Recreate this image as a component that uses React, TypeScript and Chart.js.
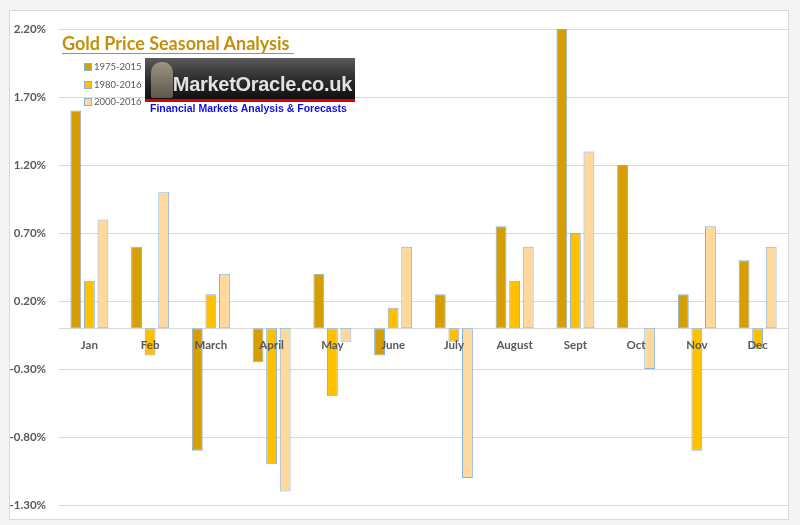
import React, { useEffect, useRef } from "react";
import { Chart, registerables } from "chart.js";

Chart.register(...registerables);

const months = ["Jan", "Feb", "March", "April", "May", "June", "July", "August", "Sept", "Oct", "Nov", "Dec"];
const s1975 = [1.6, 0.6, -0.9, -0.25, 0.4, -0.2, 0.25, 0.75, 2.2, 1.2, 0.25, 0.5];
const s1980 = [0.35, -0.2, 0.25, -1.0, -0.5, 0.15, -0.1, 0.35, 0.7, null, -0.9, -0.15];
const s2000 = [0.8, 1.0, 0.4, -1.2, -0.1, 0.6, -1.1, 0.6, 1.3, -0.3, 0.75, 0.6];
const seriesNames = ["1975-2015", "1980-2016", "2000-2016"];
const seriesColors = ["#D69E00", "#FFC000", "#FFD89C"];
const yMin = -1.3;
const yMax = 2.2;
const yStep = 0.5;
const titleText = "Gold Price Seasonal Analysis";
const logoText = "MarketOracle.co.uk";
const logoSub = "Financial Markets Analysis & Forecasts";

export default function App() {
  const ref = useRef<HTMLCanvasElement | null>(null);

  useEffect(() => {
    if (!ref.current) return;
    const border = "#86B2DE";
    const chart = new Chart(ref.current, {
      type: "bar",
      data: {
        labels: months,
        datasets: [s1975, s1980, s2000].map((d, i) => ({
          label: seriesNames[i],
          data: d,
          backgroundColor: seriesColors[i],
          borderColor: border,
          borderWidth: 1,
          borderSkipped: false,
          categoryPercentage: 0.67,
          barPercentage: 0.8,
        })),
      },
      options: {
        responsive: false,
        animation: false,
        layout: { padding: { left: 0, top: 29, right: 12, bottom: 19 } },
        plugins: {
          legend: { display: false },
          tooltip: { enabled: false },
          title: { display: false },
        },
        scales: {
          x: {
            position: { y: 0 },
            grid: { display: false, drawTicks: false },
            border: { display: true, color: "#D9D9D9", width: 1, z: 0 },
            ticks: {
              z: 1,
              padding: 10,
              color: "#595959",
              font: { family: "Lato", size: 11.5, weight: "bold" },
              maxRotation: 0,
              autoSkip: false,
            },
            afterFit: (s: any) => {
              s.height = 0;
            },
          },
          y: {
            min: yMin,
            max: yMax,
            grid: { color: "#D9D9D9", lineWidth: 1, drawTicks: false },
            border: { display: false },
            ticks: {
              stepSize: yStep,
              padding: 13,
              color: "#595959",
              font: { family: "Lato", size: 11.5, weight: "bold" },
              callback: (v: any) => Number(v).toFixed(2) + "%",
            },
            afterFit: (s: any) => {
              s.width = 59;
            },
          },
        },
      } as any,
    });
    return () => chart.destroy();
  }, []);

  return (
    <div
      style={{
        position: "fixed",
        left: 0,
        top: 0,
        width: 800,
        height: 525,
        background: "#F4F4F4",
        overflow: "hidden",
      }}
    >
      <div
        style={{
          position: "absolute",
          left: 9,
          top: 10,
          width: 780,
          height: 510,
          background: "#FFFFFF",
          border: "1px solid #D9D9D9",
          boxSizing: "border-box",
        }}
      />
      <canvas ref={ref} width={800} height={525} style={{ position: "absolute", left: 0, top: 0 }} />
      <div
        style={{
          position: "absolute",
          left: 62,
          top: 32,
          fontFamily: "Lato",
          fontWeight: 700,
          fontSize: 18,
          color: "#C4900C",
          textDecoration: "underline",
          textUnderlineOffset: 3,
          whiteSpace: "pre",
          lineHeight: "22px",
        }}
      >
        {titleText + " "}
      </div>
      {seriesNames.map((n, i) => (
        <div
          key={n}
          style={{
            position: "absolute",
            left: 84,
            top: 61 + i * 17.5,
            display: "flex",
            alignItems: "center",
            fontFamily: "Lato",
            fontSize: 9.5,
            color: "#595959",
            lineHeight: "12px",
          }}
        >
          <span
            style={{
              display: "inline-block",
              width: 6,
              height: 6,
              background: seriesColors[i],
              border: "1px solid #86B2DE",
              marginRight: 2,
            }}
          />
          {n}
        </div>
      ))}
      <div
        style={{
          position: "absolute",
          left: 145,
          top: 58,
          width: 210,
          height: 41,
          background: "linear-gradient(#5a5a5a, #2a2a2a 55%, #101010)",
          borderBottom: "3px solid #E00000",
          boxSizing: "content-box",
        }}
      >
        <div
          style={{
            position: "absolute",
            left: 6,
            top: 4,
            width: 22,
            height: 36,
            background: "linear-gradient(#a8a08c, #6b6558)",
            borderRadius: "10px 10px 2px 2px",
            opacity: 0.85,
          }}
        />
        <div
          style={{
            position: "absolute",
            right: 3,
            top: 15,
            fontFamily: "Liberation Sans",
            fontWeight: 700,
            fontSize: 20,
            color: "#E2E2E2",
            letterSpacing: -0.3,
            whiteSpace: "nowrap",
          }}
        >
          {logoText}
        </div>
      </div>
      <div
        style={{
          position: "absolute",
          left: 150,
          top: 102,
          fontFamily: "Liberation Sans",
          fontWeight: 700,
          fontSize: 10.5,
          color: "#1010E0",
          whiteSpace: "nowrap",
        }}
      >
        {logoSub}
      </div>
    </div>
  );
}
